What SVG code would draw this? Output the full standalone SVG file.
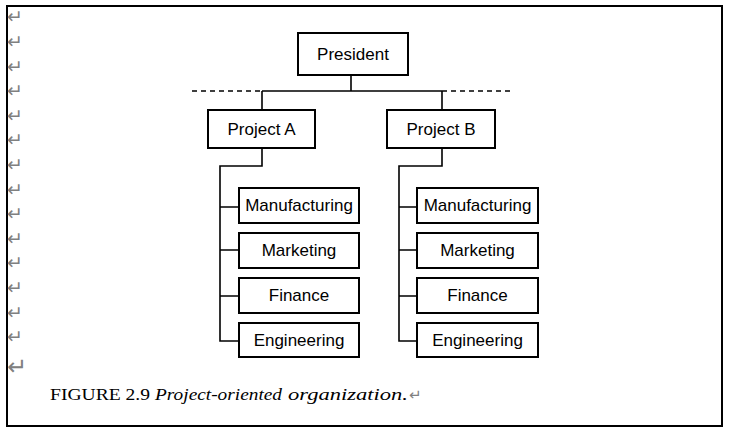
<svg xmlns="http://www.w3.org/2000/svg" width="729" height="430" viewBox="0 0 729 430">
<style>
.box{fill:#fff;stroke:#000;stroke-width:2}
.lbl{font-family:"Liberation Sans",Arial,sans-serif;font-size:17px;text-anchor:middle;fill:#000}
.ln{stroke:#000;stroke-width:1.6;fill:none}
.dash{stroke:#000;stroke-width:1.6;stroke-dasharray:5,4;fill:none}
.pm{font-family:"DejaVu Sans",sans-serif;font-size:19px;fill:#808080}
.cap{font-family:"Liberation Serif",serif;font-size:16.5px;fill:#000}
</style>
<rect x="0" y="0" width="729" height="430" fill="#fff"/>
<rect x="7" y="6" width="715" height="420" fill="none" stroke="#000" stroke-width="2"/>
<g id="marks">
<text class="pm" x="7" y="23">↵</text>
<text class="pm" x="7" y="48">↵</text>
<text class="pm" x="7" y="73">↵</text>
<text class="pm" x="7" y="97">↵</text>
<text class="pm" x="7" y="122">↵</text>
<text class="pm" x="7" y="146">↵</text>
<text class="pm" x="7" y="171">↵</text>
<text class="pm" x="7" y="196">↵</text>
<text class="pm" x="7" y="220">↵</text>
<text class="pm" x="7" y="245">↵</text>
<text class="pm" x="7" y="269">↵</text>
<text class="pm" x="7" y="294">↵</text>
<text class="pm" x="7" y="319">↵</text>
<text class="pm" x="7" y="343">↵</text>
<text class="pm" x="7" y="375" style="font-size:24px">↵</text>
</g>
<g id="connectors">
<path class="dash" d="M192,91 H262 M442,91 H512"/>
<path class="ln" d="M351,75 V91 M262,91 H442 M262,91 V110 M442,91 V110"/>
<path class="ln" d="M262,148 V166 H220 V341 H239 M220,207 H239 M220,250 H239 M220,296 H239"/>
<path class="ln" d="M442,148 V166 H399 V341 H417 M399,207 H417 M399,250 H417 M399,296 H417"/>
</g>
<g id="president"><rect class="box" x="298" y="33" width="110" height="42"/><text class="lbl" x="353" y="60">President</text></g>
<g id="projectA"><rect class="box" x="208" y="110" width="107" height="38"/><text class="lbl" x="261.5" y="135">Project A</text></g>
<g id="projectB"><rect class="box" x="387" y="110" width="108" height="38"/><text class="lbl" x="441" y="135">Project B</text></g>
<g id="a-manufacturing"><rect class="box" x="239" y="188" width="120" height="35"/><text class="lbl" x="299" y="211">Manufacturing</text></g>
<g id="a-marketing"><rect class="box" x="239" y="233" width="120" height="35"/><text class="lbl" x="299" y="256">Marketing</text></g>
<g id="a-finance"><rect class="box" x="239" y="278" width="120" height="35"/><text class="lbl" x="299" y="301">Finance</text></g>
<g id="a-engineering"><rect class="box" x="239" y="323" width="120" height="34"/><text class="lbl" x="299" y="346">Engineering</text></g>
<g id="b-manufacturing"><rect class="box" x="417" y="188" width="121" height="35"/><text class="lbl" x="477.5" y="211">Manufacturing</text></g>
<g id="b-marketing"><rect class="box" x="417" y="233" width="121" height="35"/><text class="lbl" x="477.5" y="256">Marketing</text></g>
<g id="b-finance"><rect class="box" x="417" y="278" width="121" height="35"/><text class="lbl" x="477.5" y="301">Finance</text></g>
<g id="b-engineering"><rect class="box" x="417" y="323" width="121" height="34"/><text class="lbl" x="477.5" y="346">Engineering</text></g>
<g id="caption">
<text class="cap" x="50" y="400" textLength="100" lengthAdjust="spacingAndGlyphs">FIGURE 2.9</text>
<text class="cap" x="155" y="400" font-style="italic" textLength="127" lengthAdjust="spacingAndGlyphs">Project-oriented</text>
<text class="cap" x="288" y="400" font-style="italic" textLength="120" lengthAdjust="spacingAndGlyphs">organization.</text>
<text class="pm" x="409" y="400" style="font-size:15px">↵</text>
</g>
</svg>
